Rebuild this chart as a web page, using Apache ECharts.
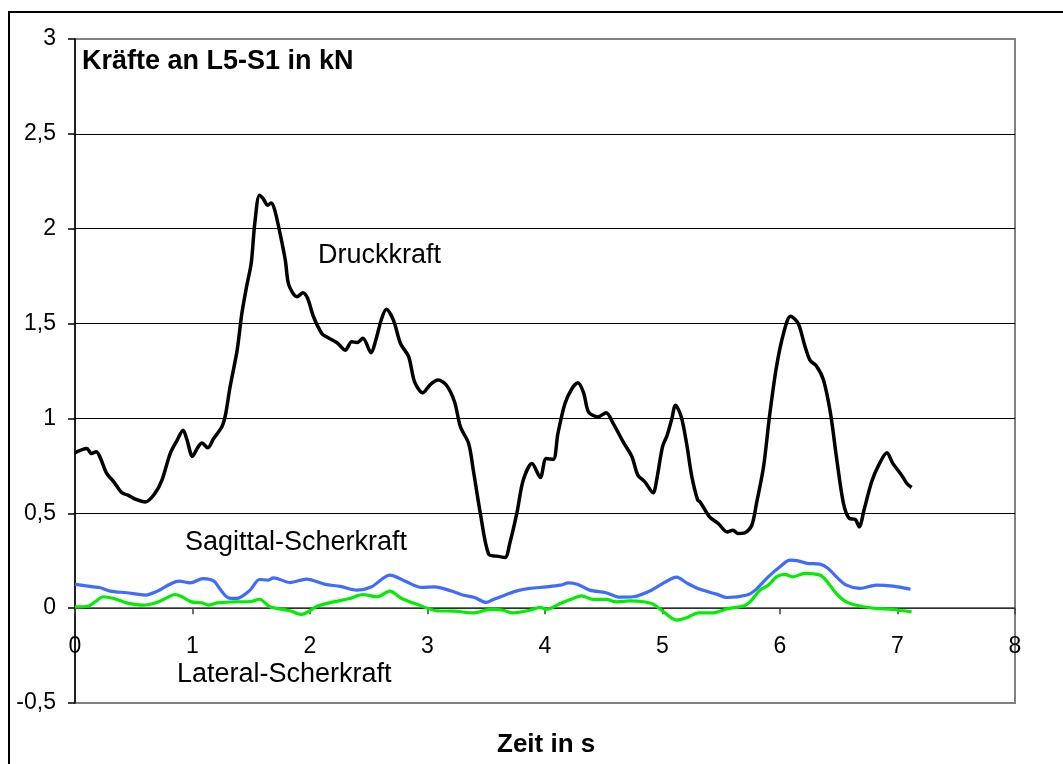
<!DOCTYPE html>
<html>
<head>
<meta charset="utf-8">
<script src="https://cdn.jsdelivr.net/npm/echarts@6/dist/echarts.min.js"></script>
<style>
html,body{margin:0;padding:0;background:#fff;}
#chart{width:1063px;height:764px;}
</style>
</head>
<body>
<div id="chart"></div>
<script>
// Druckkraft (kN) over time (s)
const druckT = [0,0.10,0.14,0.18,0.21,0.27,0.33,0.40,0.45,0.52,0.60,0.68,0.74,0.81,0.87,0.92,0.95,1.00,1.04,1.08,1.13,1.18,1.25,1.28,1.32,1.38,1.42,1.46,1.50,1.53,1.57,1.60,1.64,1.67,1.70,1.745,1.79,1.82,1.89,1.94,1.98,2.03,2.10,2.14,2.23,2.30,2.355,2.40,2.45,2.52,2.56,2.61,2.65,2.71,2.77,2.84,2.89,2.96,3.02,3.09,3.16,3.23,3.28,3.35,3.39,3.45,3.52,3.59,3.66,3.70,3.76,3.815,3.89,3.96,4.01,4.07,4.11,4.17,4.23,4.28,4.33,4.37,4.45,4.52,4.58,4.67,4.74,4.79,4.85,4.92,4.95,5.00,5.04,5.08,5.11,5.16,5.205,5.25,5.30,5.32,5.40,5.475,5.55,5.60,5.64,5.70,5.76,5.80,5.86,5.91,5.97,6.03,6.09,6.155,6.21,6.255,6.31,6.37,6.43,6.48,6.54,6.59,6.64,6.675,6.715,6.78,6.84,6.91,6.96,7.035,7.08,7.12];
const druckV = [0.819,0.842,0.815,0.824,0.80,0.71,0.666,0.608,0.596,0.573,0.56,0.605,0.675,0.815,0.886,0.938,0.894,0.80,0.842,0.871,0.845,0.894,0.956,1.017,1.167,1.36,1.553,1.694,1.82,2.028,2.177,2.16,2.124,2.136,2.098,1.975,1.834,1.703,1.641,1.662,1.632,1.536,1.448,1.43,1.399,1.36,1.404,1.40,1.422,1.346,1.413,1.527,1.575,1.518,1.395,1.325,1.193,1.135,1.176,1.202,1.176,1.088,0.956,0.868,0.727,0.499,0.285,0.274,0.267,0.341,0.499,0.675,0.763,0.689,0.789,0.784,0.921,1.079,1.158,1.188,1.132,1.035,1.008,1.03,0.974,0.871,0.798,0.701,0.666,0.608,0.675,0.85,0.912,1.00,1.07,1.008,0.868,0.692,0.569,0.56,0.481,0.446,0.402,0.411,0.394,0.397,0.437,0.552,0.745,1.008,1.272,1.448,1.539,1.50,1.386,1.307,1.276,1.202,1.026,0.798,0.552,0.473,0.468,0.429,0.517,0.666,0.754,0.819,0.763,0.701,0.657,0.636];

// Sagittal-Scherkraft (kN)
const sagT = [0,0.156,0.21,0.30,0.44,0.60,0.69,0.82,0.89,0.98,1.09,1.18,1.23,1.305,1.375,1.49,1.57,1.645,1.69,1.83,1.97,2.13,2.255,2.40,2.525,2.68,2.82,2.95,3.06,3.205,3.30,3.40,3.50,3.56,3.66,3.76,3.87,4.01,4.13,4.20,4.28,4.38,4.52,4.635,4.75,4.89,5.01,5.12,5.205,5.32,5.46,5.55,5.72,5.79,5.90,6.00,6.085,6.155,6.23,6.34,6.41,6.48,6.565,6.68,6.82,6.96,7.11];
const sagV = [0.125,0.112,0.109,0.09,0.081,0.069,0.086,0.13,0.142,0.133,0.156,0.144,0.104,0.054,0.051,0.095,0.151,0.148,0.16,0.135,0.153,0.125,0.115,0.095,0.113,0.174,0.139,0.109,0.112,0.09,0.069,0.056,0.030,0.046,0.069,0.091,0.104,0.112,0.121,0.133,0.125,0.095,0.081,0.058,0.06,0.09,0.133,0.163,0.133,0.099,0.074,0.056,0.069,0.095,0.165,0.218,0.253,0.249,0.236,0.232,0.209,0.165,0.121,0.104,0.121,0.116,0.10];

// Lateral-Scherkraft (kN)
const latT = [0,0.11,0.17,0.24,0.33,0.44,0.58,0.695,0.78,0.85,0.91,0.99,1.08,1.135,1.21,1.35,1.50,1.57,1.66,1.83,1.93,1.985,2.06,2.20,2.34,2.45,2.57,2.68,2.78,2.91,3.08,3.23,3.39,3.53,3.645,3.72,3.87,3.96,4.01,4.13,4.24,4.31,4.41,4.52,4.61,4.72,4.82,4.92,5.01,5.12,5.205,5.305,5.42,5.56,5.69,5.745,5.83,5.90,5.97,6.04,6.11,6.21,6.34,6.39,6.48,6.565,6.68,6.82,6.96,7.12];
const latV = [0.007,0.01,0.033,0.06,0.051,0.028,0.016,0.03,0.054,0.072,0.06,0.033,0.028,0.016,0.028,0.033,0.035,0.047,0.007,-0.014,-0.033,-0.019,0.01,0.033,0.051,0.072,0.06,0.09,0.051,0.02,-0.014,-0.016,-0.025,-0.007,-0.011,-0.025,-0.011,0.004,-0.007,0.025,0.051,0.065,0.046,0.046,0.033,0.038,0.035,0.021,-0.02,-0.063,-0.051,-0.025,-0.025,-0.002,0.011,0.033,0.095,0.121,0.165,0.178,0.165,0.183,0.174,0.148,0.077,0.033,0.011,-0.002,-0.007,-0.02];

const xTicks = [0,1,2,3,4,5,6,7,8];
const yTicks = [-0.5,0,0.5,1,1.5,2,2.5,3];

function zip(t, v){ return t.map((x,i)=>[x, v[i]]); }

const FONT = 'Arial, "Liberation Sans", sans-serif';
const chart = echarts.init(document.getElementById('chart'), null, {renderer:'canvas'});

// distance of the zero line above the plot bottom: (0 - (-0.5)) / 3.5 * plot height
const plotH = 764 - 39 - 61;
const zeroOffset = -(0.5 / 3.5) * plotH;

chart.setOption({
  animation: false,
  backgroundColor: '#ffffff',
  grid: {
    left: 75, right: 48, top: 39, bottom: 61,
    show: true, borderColor: '#808080', borderWidth: 2, backgroundColor: 'transparent'
  },
  xAxis: {
    type: 'value', min: 0, max: 8, interval: 1, position: 'bottom',
    offset: zeroOffset,
    axisLine: { show: true, onZero: false, lineStyle: { color: '#404040', width: 1.5 } },
    axisTick: { show: true, length: 6, lineStyle: { color: '#404040', width: 1.5 } },
    axisLabel: { color: '#000', fontFamily: FONT, fontSize: 23, margin: 27,
      formatter: v => xTicks.includes(v) ? String(v) : '' },
    splitLine: { show: false }
  },
  yAxis: {
    type: 'value', min: -0.5, max: 3, interval: 0.5,
    axisLine: { show: true, onZero: false, lineStyle: { color: '#000', width: 1.5 } },
    axisTick: { show: true, length: 7, lineStyle: { color: '#000', width: 1.5 } },
    axisLabel: { color: '#000', fontFamily: FONT, fontSize: 23, margin: 19,
      formatter: v => yTicks.some(t => Math.abs(t - v) < 1e-9) ? String(v).replace('.', ',') : '' },
    splitLine: { show: true, showMinLine: false, showMaxLine: false, lineStyle: { color: '#000', width: 1 } }
  },
  series: [
    { name: 'Druckkraft', type: 'line', data: zip(druckT, druckV), showSymbol: false, smooth: 0.3,
      lineStyle: { color: '#000000', width: 3.5 }, z: 5 },
    { name: 'Sagittal-Scherkraft', type: 'line', data: zip(sagT, sagV), showSymbol: false, smooth: 0.3,
      lineStyle: { color: '#3F6BFF', width: 3.2 }, z: 4 },
    { name: 'Lateral-Scherkraft', type: 'line', data: zip(latT, latV), showSymbol: false, smooth: 0.3,
      lineStyle: { color: '#00EE00', width: 3.2 }, z: 3 }
  ],
  graphic: [
    { type: 'rect', silent: true, z: 100, shape: { x: 9, y: 12, width: 1200, height: 900 },
      style: { fill: 'none', stroke: '#000', lineWidth: 2 } },
    { type: 'text', z: 100, left: 82, top: 48,
      style: { text: 'Kräfte an L5-S1 in kN', font: 'bold 27px ' + FONT, fill: '#000' } },
    { type: 'text', z: 100, left: 318, top: 242,
      style: { text: 'Druckkraft', font: '27px ' + FONT, fill: '#000' } },
    { type: 'text', z: 100, left: 185, top: 529,
      style: { text: 'Sagittal-Scherkraft', font: '27px ' + FONT, fill: '#000' } },
    { type: 'text', z: 100, left: 177, top: 661,
      style: { text: 'Lateral-Scherkraft', font: '27px ' + FONT, fill: '#000' } },
    { type: 'text', z: 100, left: 497, top: 732,
      style: { text: 'Zeit in s', font: 'bold 26px ' + FONT, fill: '#000' } }
  ]
});
</script>
</body>
</html>
